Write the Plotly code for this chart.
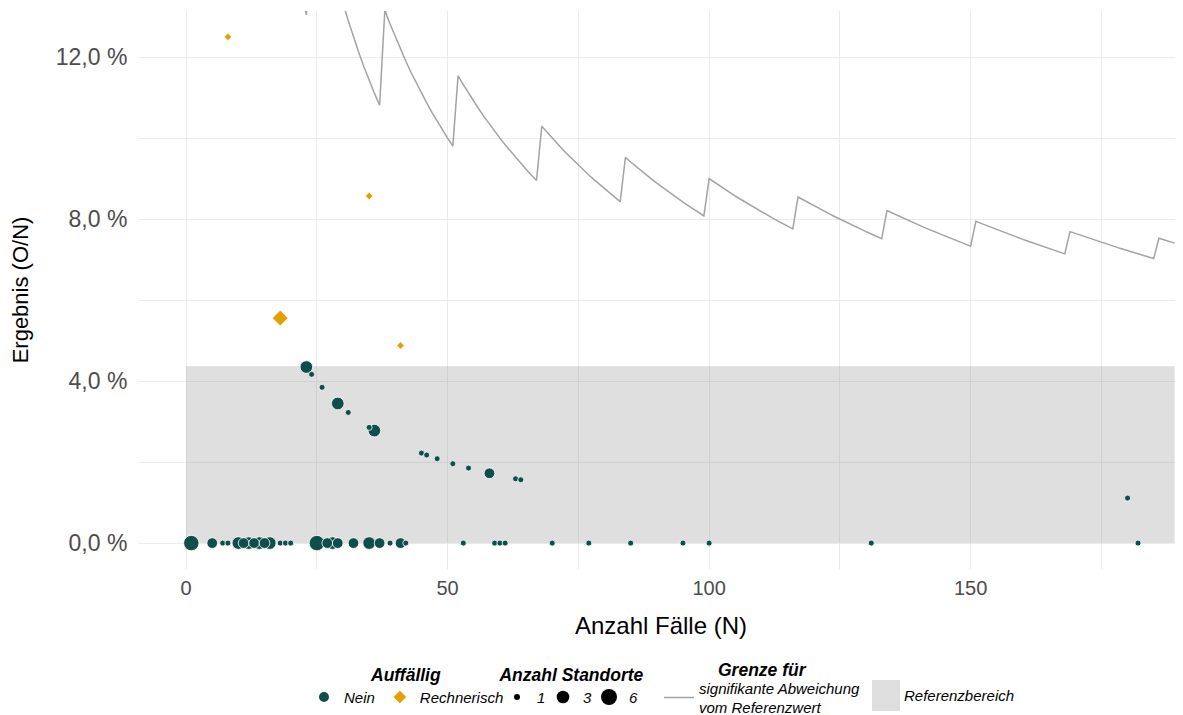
import math
import plotly.graph_objects as go

# ---------------- Daten ----------------
# Nicht auffällige Standorte (Kreise): Anzahl Fälle N, beobachtete Ereignisse O, Anzahl Standorte
nein_n = [1, 5, 7, 8, 10, 11, 12, 13, 14, 15, 16, 18, 19, 20, 25, 27, 28, 29, 32, 35, 37, 39,
          41, 42, 53, 59, 60, 61, 70, 77, 85, 95, 100, 131, 182,
          23, 24, 26, 29, 31, 35, 36, 45, 46, 48, 51, 54, 58, 63, 64, 180]
nein_o = [0, 0, 0, 0, 0, 0, 0, 0, 0, 0, 0, 0, 0, 0, 0, 0, 0, 0, 0, 0, 0, 0,
          0, 0, 0, 0, 0, 0, 0, 0, 0, 0, 0, 0, 0,
          1, 1, 1, 1, 1, 1, 1, 1, 1, 1, 1, 1, 1, 1, 1, 2]
nein_standorte = [5, 2, 1, 1, 3, 2, 3, 2, 3, 2, 3, 1, 1, 1, 5, 2, 3, 2, 2, 3, 2, 1,
                  2, 1, 1, 1, 1, 1, 1, 1, 1, 1, 1, 1, 1,
                  3, 1, 1, 3, 1, 1, 3, 1, 1, 1, 1, 1, 2, 1, 1, 1]

# Rechnerisch auffällige Standorte (Rauten)
rech_n = [8, 18, 35, 41]
rech_o = [1, 1, 3, 2]
rech_standorte = [1, 3, 1, 1]

# Grenze für signifikante Abweichung vom Referenzwert: Grenzwert O je Fallzahl N
grenze_n = [22, 23, 24, 25, 26, 27, 28, 29, 30, 31, 32, 33, 34, 35, 36, 37, 38, 39, 40, 41,
            42, 43, 44, 45, 46, 47, 48, 49, 50, 51, 52, 53, 54, 55, 56, 57, 58, 59, 60, 61,
            62, 63, 64, 65, 66, 67, 68, 69, 70, 71, 72, 73, 74, 75, 76, 77, 78, 79, 80, 81,
            82, 83, 84, 85, 86, 87, 88, 89, 90, 91, 92, 93, 94, 95, 96, 97, 98, 99, 100, 101,
            102, 103, 104, 105, 106, 107, 108, 109, 110, 111, 112, 113, 114, 115, 116, 117, 118, 119, 120, 121,
            122, 123, 124, 125, 126, 127, 128, 129, 130, 131, 132, 133, 134, 135, 136, 137, 138, 139, 140, 141,
            142, 143, 144, 145, 146, 147, 148, 149, 150, 151, 152, 153, 154, 155, 156, 157, 158, 159, 160, 161,
            162, 163, 164, 165, 166, 167, 168, 169, 170, 171, 172, 173, 174, 175, 176, 177, 178, 179, 180, 181,
            182, 183, 184, 185, 186, 187, 188, 189]
grenze_o = [3, 3, 4, 4, 4, 4, 4, 4, 4, 4, 4, 4, 4, 4, 4, 4, 5, 5, 5, 5,
            5, 5, 5, 5, 5, 5, 5, 5, 5, 5, 6, 6, 6, 6, 6, 6, 6, 6, 6, 6,
            6, 6, 6, 6, 6, 6, 7, 7, 7, 7, 7, 7, 7, 7, 7, 7, 7, 7, 7, 7,
            7, 7, 8, 8, 8, 8, 8, 8, 8, 8, 8, 8, 8, 8, 8, 8, 8, 8, 9, 9,
            9, 9, 9, 9, 9, 9, 9, 9, 9, 9, 9, 9, 9, 9, 9, 10, 10, 10, 10, 10,
            10, 10, 10, 10, 10, 10, 10, 10, 10, 10, 10, 10, 11, 11, 11, 11, 11, 11, 11, 11,
            11, 11, 11, 11, 11, 11, 11, 11, 11, 12, 12, 12, 12, 12, 12, 12, 12, 12, 12, 12,
            12, 12, 12, 12, 12, 12, 12, 13, 13, 13, 13, 13, 13, 13, 13, 13, 13, 13, 13, 13,
            13, 13, 13, 13, 14, 14, 14, 14]

# Referenzbereich (Ergebnis in %) und Fallzahlbereich
referenz_oben = 4.37
referenz_n_bis = 189

y_tickvals = [0, 4, 8, 12]
y_ticktext = ["0,0 %", "4,0 %", "8,0 %", "12,0 %"]
x_tickvals = [0, 50, 100, 150]
x_ticktext = ["0", "50", "100", "150"]
legende_standorte = [1, 3, 6]

# ---------------- Stil ----------------
FONT = "Liberation Sans"
TEAL = "#0F4E4A"
ORANGE = "#E69F00"
GRENZE_FARBE = "#A3A3A3"
REF_FILL = "rgba(128,128,128,0.25)"

W, H = 1183, 715
OFF = 8                                 # page body margin of the html page
PL, PR, PT, PB = 139, 1183, 11, 569     # plot area in page px


def px_x(p):
    return (p - PL) / (PR - PL)


def px_y(p):
    return (PB - p) / (PB - PT)


def groesse(n):
    return 6 + 10.5 * math.sqrt((n - 1) / 5)


def ergebnis(o, n):
    return [100.0 * a / b for a, b in zip(o, n)]


# larger markers first so small ones lie on top
ordnung = sorted(range(len(nein_n)), key=lambda i: -nein_standorte[i])
nx = [nein_n[i] for i in ordnung]
ny = ergebnis([nein_o[i] for i in ordnung], nx)
ns = [groesse(nein_standorte[i]) for i in ordnung]

fig = go.Figure()

# Referenzbereich
fig.add_trace(go.Scatter(
    x=[0, referenz_n_bis, referenz_n_bis, 0, 0],
    y=[0, 0, referenz_oben, referenz_oben, 0],
    mode="lines", fill="toself", fillcolor=REF_FILL,
    line=dict(width=0), showlegend=False, hoverinfo="skip"))

# Grenze
fig.add_trace(go.Scatter(
    x=grenze_n, y=ergebnis(grenze_o, grenze_n), mode="lines",
    line=dict(color=GRENZE_FARBE, width=1.5),
    name="signifikante Abweichung<br>vom Referenzwert",
    legend="legend3"))

# Nein
fig.add_trace(go.Scatter(
    x=nx, y=ny, mode="markers", name="Nein",
    marker=dict(symbol="circle", color=TEAL, size=ns, opacity=1,
                line=dict(color="white", width=0.8)),
    legend="legend"))

# Rechnerisch
fig.add_trace(go.Scatter(
    x=rech_n, y=ergebnis(rech_o, rech_n), mode="markers", name="Rechnerisch",
    marker=dict(symbol="diamond", color=ORANGE, opacity=1,
                size=[groesse(s) * 0.95 for s in rech_standorte],
                line=dict(color="white", width=0.6)),
    legend="legend"))

# Anzahl Standorte legend
for s in legende_standorte:
    fig.add_trace(go.Scatter(
        x=[None], y=[None], mode="markers", name=str(s),
        marker=dict(symbol="circle", color="black", size=groesse(s), opacity=1),
        legend="legend2"))

title_font = dict(family=FONT, size=17.5, color="black", style="italic", weight="bold")
item_font = dict(family=FONT, size=15, color="black", style="italic")

# Referenzbereich legend swatch + label
fig.add_shape(type="rect", xref="paper", yref="paper",
              x0=px_x(872), x1=px_x(900), y0=px_y(711), y1=px_y(680),
              fillcolor="#DEDEDE", line=dict(width=0))
fig.add_annotation(text="Referenzbereich", xref="paper", yref="paper",
                   x=px_x(902), y=px_y(695),
                   xanchor="left", yanchor="middle", showarrow=False,
                   font=item_font)
# title of the "Grenze" legend group
fig.add_annotation(text="Grenze für", xref="paper", yref="paper",
                   x=px_x(762), y=px_y(670),
                   xanchor="center", yanchor="middle", showarrow=False,
                   font=title_font)

leg_common = dict(orientation="h", yanchor="top", xanchor="left",
                  font=item_font, bgcolor="rgba(0,0,0,0)", tracegroupgap=0)
LEG_TOP = px_y(658)

fig.update_layout(
    width=W, height=H,
    margin=dict(l=PL - OFF, r=W - (PR - OFF), t=PT - OFF, b=H - (PB - OFF), autoexpand=False),
    paper_bgcolor="white", plot_bgcolor="white",
    font=dict(family=FONT, color="black"),
    xaxis=dict(
        range=[-9.0, 190.6], tickvals=x_tickvals, ticktext=x_ticktext,
        showgrid=True, gridcolor="#EBEBEB", gridwidth=1.3,
        minor=dict(dtick=25, tick0=0, showgrid=True, gridcolor="#EBEBEB", gridwidth=1.0),
        zeroline=False, showline=False, automargin=False,
        ticks="outside", ticklen=1, tickcolor="rgba(0,0,0,0)",
        tickfont=dict(family=FONT, size=20, color="#4D4D4D"),
        title=dict(text="Anzahl Fälle (N)", font=dict(family=FONT, size=24, color="black"), standoff=19),
    ),
    yaxis=dict(
        range=[-0.64, 13.14], tickvals=y_tickvals, ticktext=y_ticktext,
        showgrid=True, gridcolor="#EBEBEB", gridwidth=1.3,
        minor=dict(dtick=2, tick0=0, showgrid=True, gridcolor="#EBEBEB", gridwidth=1.0),
        zeroline=False, showline=False, automargin=False,
        ticks="outside", ticklen=6, tickcolor="rgba(0,0,0,0)",
        tickfont=dict(family=FONT, size=23, color="#4D4D4D"),
        title=dict(text="Ergebnis (O/N)", font=dict(family=FONT, size=22, color="black"), standoff=22),
    ),
    legend=dict(x=px_x(304), y=LEG_TOP, itemsizing="constant",
                title=dict(text="Auffällig", font=title_font, side="top center"), **leg_common),
    legend2=dict(x=px_x(497), y=LEG_TOP, itemsizing="trace", entrywidth=1,
                 title=dict(text="Anzahl Standorte", font=title_font, side="top center"), **leg_common),
    legend3=dict(x=px_x(659), y=px_y(671.5), **leg_common),
    showlegend=True,
)

fig.write_html("out.html")
